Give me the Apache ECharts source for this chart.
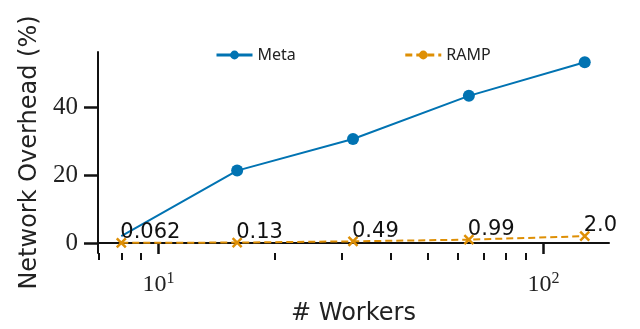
<!DOCTYPE html>
<html><head><meta charset="utf-8">
<script src="https://cdn.jsdelivr.net/npm/echarts@6/dist/echarts.min.js"></script>
<style>html,body{margin:0;padding:0;background:#fff}#c{width:640px;height:329px}</style>
</head><body><div id="c"></div>
<script>
const workers = [8, 16, 32, 64, 128];
const metaValues = [2.0, 21.3, 30.6, 43.3, 53.2];
const rampValues = [0.062, 0.13, 0.49, 0.99, 2.0];
const yTicks = [0, 20, 40];
const xMajorTicks = [10, 100];
const xMinorTicks = [7, 8, 9, 20, 30, 40, 50, 60, 70, 80, 90];
const seriesNames = ['Meta', 'RAMP'];

const blue = '#0173B2', orange = '#DE8F05';
const xPath = 'path://M0,0L10,10M10,0L0,10';
const chart = echarts.init(document.getElementById('c'));
const xMin = 6.96, xMax = 148;
chart.setOption({
  animation: false,
  grid: {left: 98, right: 31, top: 52, bottom: 76, outerBoundsMode: 'none', containLabel: false},
  legend: {
    data: seriesNames, left: 210, top: 42, itemWidth: 36, itemHeight: 11, itemGap: 108,
    itemStyle: {borderWidth: 0},
    lineStyle: {width: 3},
    textStyle: {fontFamily: 'Noto Sans', fontSize: 16, color: '#222'}
  },
  xAxis: [{
    type: 'log', logBase: 10, min: xMin, max: xMax,
    name: '# Workers', nameLocation: 'middle', nameGap: 38,
    nameTextStyle: {fontFamily: 'DejaVu Sans', fontSize: 24, color: '#222'},
    axisLine: {lineStyle: {color: '#111', width: 2}},
    axisTick: {customValues: xMajorTicks, length: 11, lineStyle: {color: '#111', width: 2.5}},
    axisLabel: {
      customValues: xMajorTicks, margin: 18,
      formatter: v => '10{s|' + Math.round(Math.log10(v)) + '}',
      rich: {s: {fontFamily: 'Liberation Serif', fontSize: 16, verticalAlign: 'top', padding: [0,0,12,0], color: '#222'}},
      fontFamily: 'Liberation Serif', fontSize: 24, color: '#222'
    },
    splitLine: {show: false}
  }, {
    type: 'log', logBase: 10, min: xMin, max: xMax, position: 'bottom',
    axisLine: {show: false},
    axisTick: {customValues: xMinorTicks, length: 7, lineStyle: {color: '#111', width: 2}},
    axisLabel: {show: false},
    splitLine: {show: false}
  }],
  yAxis: {
    type: 'value', min: -2.94, max: 56.2,
    name: 'Network Overhead (%)', nameLocation: 'middle', nameGap: 50,
    nameTextStyle: {fontFamily: 'DejaVu Sans', fontSize: 24, color: '#222'},
    axisLine: {show: true, lineStyle: {color: '#111', width: 2}},
    axisTick: {show: true, customValues: yTicks, length: 14, lineStyle: {color: '#111', width: 2.5}},
    axisLabel: {customValues: yTicks, margin: 20, fontFamily: 'Liberation Serif', fontSize: 25, color: '#222'},
    splitLine: {show: false}
  },
  series: [{
    name: 'Meta', type: 'line', xAxisIndex: 0,
    symbol: 'circle', symbolSize: 12,
    data: workers.map((w, i) => i === 0 ? {value: [w, metaValues[i]], symbol: 'none'} : [w, metaValues[i]]),
    lineStyle: {color: blue, width: 2}, itemStyle: {color: blue}, z: 3
  }, {
    name: 'RAMP', type: 'line', xAxisIndex: 0,
    symbol: 'circle', symbolSize: 9,
    data: workers.map((w, i) => ({value: [w, rampValues[i]], symbol: xPath})),
    lineStyle: {color: orange, width: 2, type: [7, 4]},
    itemStyle: {color: orange, borderColor: orange, borderWidth: 2.5},
    label: {
      show: true, position: 'top', align: 'left', distance: -6, offset: [-1, 0],
      formatter: p => Number(p.value[1]).toPrecision(2),
      fontFamily: 'DejaVu Sans', fontSize: 21, color: '#111'
    },
    z: 4
  }]
});
</script></body></html>
